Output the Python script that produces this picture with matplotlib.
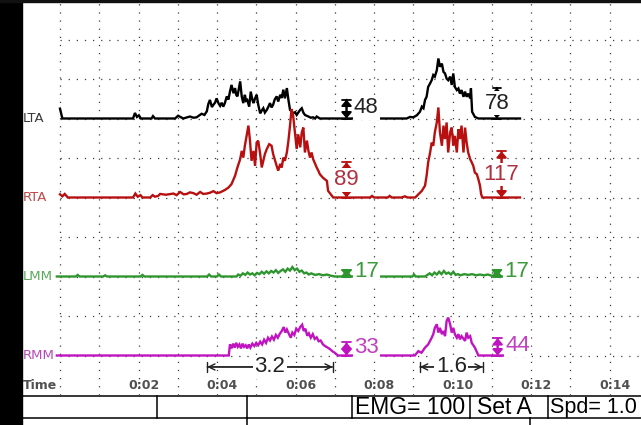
import numpy as np
import matplotlib
matplotlib.use("Agg")
import matplotlib.pyplot as plt
from matplotlib.patches import Rectangle

# ---------------- EMG traces (time in s, amplitude in uV above channel baseline) ----------
lta_t = [0.00, 0.06, 1.86, 1.91, 1.96, 2.01, 2.06, 2.33, 2.37, 2.42,
         2.93, 3.01, 3.14, 3.31, 3.40, 3.48, 3.55, 3.61, 3.68, 3.74, 3.78, 3.82, 3.87, 3.91,
         3.95, 3.99, 4.04, 4.08, 4.12, 4.16, 4.20, 4.25, 4.29, 4.33, 4.37, 4.42, 4.46, 4.49,
         4.52, 4.55, 4.59, 4.63, 4.67, 4.71, 4.74, 4.77, 4.82, 4.86, 4.90, 4.93, 4.97, 5.01,
         5.05, 5.10, 5.14, 5.18, 5.22, 5.27, 5.31, 5.35, 5.39, 5.43, 5.47, 5.52, 5.56, 5.61,
         5.65, 5.69, 5.73, 5.78, 5.82, 5.86, 5.90, 5.94, 5.99, 6.03, 6.07, 6.12, 6.16, 6.20,
         6.24, 6.33, 6.39, 6.45, 6.50, 6.54, 6.62,
         8.83, 8.92, 9.00, 9.09, 9.17, 9.22, 9.26, 9.30, 9.34, 9.38, 9.43, 9.47, 9.51, 9.55,
         9.60, 9.64, 9.68, 9.73, 9.77, 9.81, 9.85, 9.89, 9.94, 9.98, 10.02, 10.06, 10.11,
         10.15, 10.19, 10.23, 10.28, 10.32, 10.36, 10.40, 10.45, 10.47, 10.50, 10.57, 10.66,
         11.72]
lta_v = [25, 0, 0, 14, 4, 8, 0, 0, 6, 0,
         0, 7, 0, 5, 2, 3, 8, 12, 9, 18, 37, 47, 29, 35,
         40, 51, 38, 32, 40, 30, 39, 56, 48, 68, 85, 64, 77, 60,
         56, 72, 94, 56, 39, 60, 45, 47, 30, 68, 48, 39, 51, 60,
         35, 13, 20, 26, 15, 22, 30, 39, 28, 35, 48, 56, 43, 60,
         52, 73, 51, 77, 47, 22, 18, 13, 16, 9, 15, 22, 26, 15,
         9, 5, 2, 3, 0, 5, 0,
         0, 4, 3, 8, 17, 30, 26, 47, 55, 80, 89, 97, 110, 106,
         122, 152, 131, 139, 118, 114, 101, 97, 106, 85, 114, 80, 72,
         76, 63, 72, 55, 68, 55, 63, 51, 76, 17, 4, 0,
         0]

rta_t = [0.00, 0.06, 0.12, 0.20, 1.86, 1.92, 1.98, 2.05, 2.10, 2.30, 2.36, 2.42, 2.50,
         2.55, 2.70, 2.89, 2.97, 3.06, 3.15, 3.23, 3.31, 3.40, 3.48, 3.57, 3.65, 3.74,
         3.82, 3.91, 3.99, 4.08, 4.20, 4.29, 4.37, 4.46, 4.52, 4.59, 4.63, 4.67, 4.71,
         4.76, 4.80, 4.84, 4.88, 4.93, 4.97, 5.01, 5.05, 5.10, 5.14, 5.18, 5.22, 5.27,
         5.33, 5.39, 5.43, 5.48, 5.52, 5.56, 5.61, 5.65, 5.69, 5.73, 5.78, 5.82, 5.86,
         5.90, 5.94, 5.99, 6.03, 6.07, 6.12, 6.16, 6.20, 6.24, 6.29, 6.33, 6.37, 6.41,
         6.45, 6.50, 6.54, 6.58, 6.62, 6.70, 6.80, 6.83, 6.93, 6.96,
         7.90, 7.95, 8.00, 8.35, 8.40, 8.45, 8.70, 8.79, 8.85, 9.05, 9.13, 9.22, 9.30,
         9.34, 9.38, 9.43, 9.47, 9.51, 9.55, 9.60, 9.64, 9.68, 9.73, 9.77, 9.81, 9.85,
         9.89, 9.94, 9.98, 10.02, 10.06, 10.11, 10.15, 10.19, 10.23, 10.28, 10.32, 10.36,
         10.40, 10.45, 10.49, 10.53, 10.57, 10.62, 10.66, 10.70, 10.73, 10.76, 11.72]
rta_v = [8, 3, 9, 0, 0, 10, 2, 6, 0, 0, 6, 2, 4,
         9, 7, 10, 6, 14, 8, 9, 13, 11, 7, 14, 9, 10,
         12, 16, 11, 13, 19, 25, 34, 55, 76, 97, 118, 101, 131,
         160, 182, 144, 93, 118, 80, 139, 144, 110, 76, 93, 110, 123,
         135, 131, 110, 93, 80, 68, 85, 76, 101, 93, 114, 144, 182,
         224, 207, 160, 123, 160, 127, 165, 177, 114, 144, 118, 101, 114,
         97, 85, 76, 68, 59, 50, 42, 17, 4, 0,
         0, 4, 0, 0, 4, 0, 0, 3, 0, 0, 8, 17, 30,
         55, 89, 114, 139, 131, 165, 190, 228, 165, 131, 182, 148, 190,
         114, 165, 177, 131, 156, 114, 173, 148, 182, 114, 177, 139,
         114, 97, 89, 80, 63, 59, 46, 30, 8, 0, 0]

lmm_t = [-0.08, 0.40, 0.45, 0.50, 1.10, 1.15, 1.20, 2.05, 2.10, 2.15, 3.75, 3.80, 3.85,
         4.00, 4.05, 4.10, 4.50, 4.54, 4.60, 4.66, 4.72, 4.78, 4.84, 4.90, 4.96, 5.02,
         5.08, 5.14, 5.20, 5.26, 5.32, 5.38, 5.44, 5.50, 5.56, 5.62, 5.68, 5.74, 5.80,
         5.86, 5.92, 5.98, 6.04, 6.10, 6.16, 6.22, 6.28, 6.34, 6.40, 6.50, 6.60, 6.70,
         6.80, 6.90, 7.00,
         8.98, 9.02, 9.06, 9.30, 9.36, 9.42, 9.48, 9.54, 9.60, 9.66, 9.72, 9.78, 9.84,
         9.90, 9.96, 10.02, 10.08, 10.14, 10.20, 10.30, 10.40, 10.50, 10.60, 10.70, 10.80,
         10.90, 11.00, 11.10, 11.72]
lmm_v = [0, 0, 4, 0, 0, 3, 0, 0, 4, 0, 0, 5, 0,
         0, 5, 0, 0, 5, 2, 8, 4, 10, 5, 8, 3, 9,
         6, 12, 7, 13, 8, 14, 10, 16, 9, 14, 18, 12, 20,
         15, 24, 16, 20, 12, 15, 8, 10, 5, 8, 4, 6, 3,
         5, 2, 0,
         0, 5, 0, 0, 4, 8, 3, 10, 5, 12, 6, 14, 7,
         10, 5, 12, 4, 6, 3, 6, 4, 6, 3, 5, 3,
         5, 2, 0, 0]

rmm_t = [-0.08, 4.30, 4.33, 4.37, 4.41, 4.45, 4.49, 4.53, 4.57, 4.61, 4.65, 4.69, 4.73,
         4.77, 4.81, 4.85, 4.90, 4.95, 5.00, 5.05, 5.10, 5.15, 5.20, 5.25, 5.30, 5.35,
         5.40, 5.45, 5.50, 5.55, 5.60, 5.65, 5.70, 5.74, 5.78, 5.83, 5.88, 5.92, 5.97,
         6.02, 6.07, 6.12, 6.17, 6.21, 6.25, 6.30, 6.34, 6.39, 6.44, 6.49, 6.54, 6.59,
         6.64, 6.70, 6.75, 6.82, 6.88, 6.95, 7.00, 7.08,
         9.04, 9.13, 9.21, 9.30, 9.38, 9.47, 9.51, 9.55, 9.60, 9.64, 9.68, 9.73, 9.77,
         9.81, 9.85, 9.89, 9.94, 9.98, 10.02, 10.06, 10.11, 10.15, 10.19, 10.23, 10.32,
         10.36, 10.40, 10.45, 10.49, 10.57, 10.66, 11.72]
rmm_v = [0, 0, 28, 18, 30, 20, 32, 22, 28, 18, 30, 22, 26,
         18, 28, 20, 30, 24, 32, 26, 35, 28, 40, 32, 45, 38,
         48, 40, 52, 45, 55, 62, 72, 58, 66, 55, 45, 58, 52,
         68, 62, 72, 78, 62, 68, 50, 56, 45, 54, 42, 46, 36,
         38, 28, 24, 20, 16, 10, 7, 0,
         0, 11, 7, 20, 28, 45, 54, 70, 79, 58, 70, 54, 62,
         49, 87, 96, 79, 58, 70, 54, 45, 54, 41, 49, 37,
         58, 45, 49, 32, 20, 0, 0]

channel_names = ["LTA", "RTA", "LMM", "RMM"]
channel_baselines = [700, 500, 300, 100]          # uV offsets on the display
channel_t = [lta_t, rta_t, lmm_t, rmm_t]
channel_v = [lta_v, rta_v, lmm_v, rmm_v]

# peak markers for each burst (value in uV) and the time where they sit
peak_values = [[48, 78], [89, 117], [17, 17], [33, 44]]
peak_times = [[7.30, 11.13], [7.30, 11.25], [7.30, 11.13], [7.30, 11.15]]
peak_label_centered = [[False, True], [True, True], [False, False], [False, False]]

# burst durations (s)
interval_starts = [3.75, 9.17]
interval_lengths = [3.2, 1.6]

time_ticks = [2, 4, 6, 8, 10, 12, 14]
time_labels = ["0:02", "0:04", "0:06", "0:08", "0:10", "0:12", "0:14"]

status_cells = ["EMG= 100", "Set A", "Spd= 1.0"]

# ---------------- styling ----------------
line_colors = ["#000000", "#b81010", "#2f962f", "#c014c0"]
name_colors = ["#3a3a3a", "#c04848", "#5aa85a", "#b848b8"]
value_colors = ["#222222", "#b03040", "#3a9a3a", "#c040c0"]

W, H = 641, 425
fig = plt.figure(figsize=(W / 100, H / 100), dpi=100, facecolor="white")

left_px, bottom_px = 22, 395
ax = fig.add_axes([left_px / W, (H - bottom_px) / H, (W - left_px) / W, bottom_px / H])
px_per_s = 39.25
ax.set_xlim((left_px - 60) / px_per_s, (W - 60) / px_per_s)
ax.set_ylim(0, 1000)
ax.axis("off")

# dotted grid: 1 s by 100 uV
dot = (0, (1, 5.5))
for s in range(0, 15):
    ax.plot([s, s], [0, 1000], color="#3c3c3c", lw=0.9, ls=dot, zorder=1)
for u in range(100, 1000, 100):
    ax.plot([0, 14.9], [u, u], color="#3c3c3c", lw=0.9, ls=dot, zorder=1)

num_font = "Liberation Sans"
box = dict(boxstyle="square,pad=0.06", fc="white", ec="none")

for i, name in enumerate(channel_names):
    base = channel_baselines[i]
    t = np.asarray(channel_t[i])
    v = np.asarray(channel_v[i]) + base
    ax.plot(t, v, color=line_colors[i], lw=1.7, solid_joinstyle="miter", zorder=3)
    ax.text(-0.94, base, name, color=name_colors[i], fontsize=9.5,
            family="DejaVu Sans", ha="left", va="center", zorder=5)
    for k, val in enumerate(peak_values[i]):
        tk = peak_times[i][k]
        ax.annotate("", xy=(tk, base + val), xytext=(tk, base),
                    arrowprops=dict(arrowstyle="<|-|>,head_length=0.35,head_width=0.3",
                                    mutation_scale=10, lw=1.5, color=line_colors[i],
                                    shrinkA=0, shrinkB=0), zorder=4)
        ax.annotate("", xy=(tk, base + val), xytext=(tk, base),
                    arrowprops=dict(arrowstyle="|-|,widthA=0.3,widthB=0.3",
                                    mutation_scale=10, lw=1.3, color=line_colors[i],
                                    shrinkA=0, shrinkB=0), zorder=4)
        if peak_label_centered[i][k]:
            ax.text(tk, base + val / 2, str(val), color=value_colors[i], fontsize=16,
                    family=num_font, ha="center", va="center", bbox=box, zorder=6)
        else:
            ax.text(tk + 0.19, base + val / 2 + 3, str(val), color=value_colors[i],
                    fontsize=16, family=num_font, ha="left", va="center", bbox=box, zorder=6)

# burst duration brackets
for t0, dur in zip(interval_starts, interval_lengths):
    y = 71
    ax.annotate("", xy=(t0 + dur, y), xytext=(t0, y),
                arrowprops=dict(arrowstyle="<->,head_length=0.45,head_width=0.22",
                                mutation_scale=10, lw=1.0, color="#222222",
                                shrinkA=0, shrinkB=0), zorder=4)
    ax.annotate("", xy=(t0 + dur, y), xytext=(t0, y),
                arrowprops=dict(arrowstyle="|-|,widthA=0.35,widthB=0.35",
                                mutation_scale=10, lw=1.0, color="#222222",
                                shrinkA=0, shrinkB=0), zorder=4)
    ax.text(t0 + dur / 2, y, f"{dur:.1f}", fontsize=16, family=num_font, color="#222222",
            ha="center", va="center", bbox=box, zorder=6)

# time axis labels drawn inside the trace area
ax.text(-0.94, 23, "Time", fontsize=9, family="DejaVu Sans", weight="bold",
        color="#505050", ha="left", va="center", zorder=5)
for s, lab in zip(time_ticks, time_labels):
    ax.text(s + 0.13, 23, lab, fontsize=9, family="DejaVu Sans", weight="bold",
            color="#505050", ha="center", va="center", zorder=5)

# ---------------- status bar ----------------
bar = fig.add_axes([0, 0, 1, (H - bottom_px) / H])
bar.set_xlim(0, W)
bar.set_ylim(H, bottom_px)
bar.axis("off")
bar.plot([left_px, W], [395.5, 395.5], color="black", lw=1.1, clip_on=False)
bar.plot([left_px, W], [418, 418], color="black", lw=1.1, clip_on=False)
for xs in [157, 247, 352, 470, 548]:
    bar.plot([xs, xs], [395.5, 418], color="black", lw=1.1, clip_on=False)
for xs in [247, 530]:
    bar.plot([xs, xs], [418, H], color="black", lw=1.1, clip_on=False)
for lab, x0, fs in zip(status_cells, [355, 477, 550], [16.5, 16.5, 15.5]):
    bar.text(x0, 407, lab, fontsize=fs, family=num_font, color="black",
             ha="left", va="center", clip_on=False)

# window frame: dark strip on the left and a thin top edge
fig.patches.append(Rectangle((0, 0), left_px / W, 1, transform=fig.transFigure,
                             color="black", zorder=10))
fig.patches.append(Rectangle((0, 1 - 2 / H), 1, 2 / H, transform=fig.transFigure,
                             color="#111111", zorder=10))

fig.savefig("out.png", dpi=100, facecolor="white")
